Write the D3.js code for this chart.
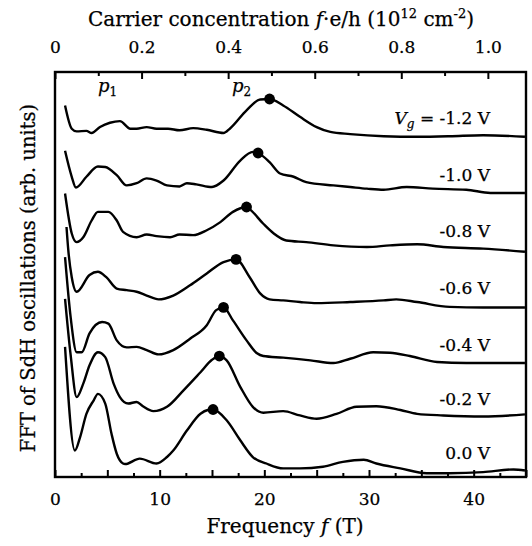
<!DOCTYPE html>
<html><head><meta charset="utf-8">
<script src="https://cdn.jsdelivr.net/npm/d3@7"></script>
<style>
body{margin:0;background:#fff}
text{font-family:"DejaVu Serif",serif;fill:#000;stroke:#000;stroke-width:0.25px}
</style>
</head><body>
<svg id="c" width="532" height="546"></svg>
<script>
// ---------------- data ----------------
const gateLabels = ["0.0 V", "-0.2 V", "-0.4 V", "-0.6 V", "-0.8 V", "-1.0 V", "-1.2 V"];
const offsets = [0, 1.0, 2.0, 3.05, 4.1, 5.15, 6.2];

const freq_00 = [0.96,1.9,2.4,3.0,3.7,4.1,4.8,5.4,5.9,6.5,6.7,8.1,9.7,10.7,11.3,12.6,13.9,14.6,15.1,16.4,17.7,18.9,20.2,21.8,23.4,25.6,27.5,29.5,30.7,33,35.5,37.7,40.9,43.8,44.9];
const amp_00  = [2.41,0.49,0.74,1.17,1.42,1.54,1.36,0.80,0.43,0.25,0.24,0.34,0.25,0.37,0.49,0.86,1.17,1.24,1.25,1.05,0.68,0.37,0.25,0.16,0.16,0.19,0.28,0.32,0.25,0.16,0.07,0.07,0.09,0.14,0.12];

const freq_02 = [0.96,1.5,2.07,2.7,3.3,4.1,4.8,5.6,6.2,7.0,7.8,8.4,9.4,10.7,12.3,13.9,15.0,15.7,16.4,17.7,18.9,19.9,21.8,23.4,25,26.9,28.8,30.7,33,34.6,37.1,40.9,44.9];
const amp_02  = [2.30,1.25,0.48,0.73,1.07,1.31,1.22,0.73,0.48,0.36,0.39,0.31,0.22,0.30,0.61,0.94,1.17,1.24,1.16,0.67,0.30,0.19,0.22,0.14,0.08,0.17,0.30,0.31,0.24,0.17,0.14,0.12,0.16];

const freq_04 = [0.96,1.5,2.07,2.55,3.3,4.5,5.1,5.9,6.85,7.8,8.76,9.9,11.3,12.9,14.5,15.4,16.1,17.0,18.3,19.3,19.9,21.8,24.4,26.6,28.2,30.4,32.0,33.9,36.5,39.3,44.9];
const amp_04  = [2.07,0.95,0.31,0.31,0.66,0.87,0.84,0.53,0.40,0.41,0.35,0.27,0.35,0.56,0.81,1.09,1.14,0.90,0.53,0.29,0.24,0.21,0.16,0.11,0.19,0.31,0.30,0.24,0.13,0.11,0.11];

const freq_06 = [1.1,1.27,1.6,2.07,3.3,4.1,4.9,5.9,6.85,7.8,8.76,9.9,11.3,12.9,14.5,16.1,17.3,18.6,19.6,20.5,21.8,23.4,25,28.2,31.4,32.6,34.6,37.7,40.9,44.9];
const amp_06  = [1.58,1.15,0.65,0.38,0.69,0.75,0.65,0.44,0.41,0.38,0.31,0.24,0.31,0.50,0.72,0.93,0.98,0.65,0.35,0.24,0.22,0.19,0.17,0.19,0.22,0.24,0.19,0.10,0.09,0.09];

const freq_08 = [0.96,1.6,2.07,2.7,3.5,4.1,5.1,5.9,6.5,7.8,8.76,9.7,11.0,11.9,13.2,14.5,15.8,17.0,18.3,18.6,19.9,20.9,22.1,24.0,26.6,29.8,32.0,34.6,37.1,40.9,44.9];
const amp_08  = [1.15,0.41,0.25,0.34,0.65,0.81,0.81,0.65,0.44,0.34,0.39,0.36,0.34,0.39,0.38,0.47,0.62,0.81,0.90,0.86,0.59,0.41,0.28,0.25,0.19,0.16,0.19,0.21,0.16,0.13,0.07];

const freq_10 = [0.96,1.6,2.0,3.0,4.1,4.8,5.9,6.85,7.8,8.76,9.7,10.7,11.9,12.6,13.5,15.0,16.1,17.7,18.9,19.4,20.5,21.5,22.8,24.0,26.6,28.2,29.8,31.4,33.6,36.1,39.3,41.6,44.9];
const amp_10  = [0.89,0.41,0.21,0.41,0.60,0.59,0.44,0.25,0.29,0.38,0.34,0.25,0.23,0.29,0.27,0.22,0.34,0.71,0.87,0.85,0.68,0.47,0.41,0.31,0.25,0.22,0.19,0.17,0.22,0.19,0.17,0.11,0.11];

const freq_12 = [0.96,1.6,2.07,3.0,3.5,4.3,5.25,6.2,7.2,7.8,8.76,9.7,10.8,11.9,13.2,14.5,16.1,16.7,18.3,19.6,20.5,21.8,23.4,25,26.3,28.2,31.4,34.6,37.7,40.9,44.9];
const amp_12  = [0.68,0.25,0.20,0.21,0.17,0.28,0.36,0.39,0.25,0.25,0.28,0.25,0.25,0.22,0.26,0.23,0.17,0.25,0.59,0.79,0.80,0.68,0.47,0.28,0.19,0.15,0.11,0.10,0.11,0.13,0.10];

const peakF = [15.1, 15.7, 16.1, 17.3, 18.3, 19.4, 20.5];
const peakA = [1.25, 1.24, 1.14, 0.98, 0.90, 0.85, 0.80];

const bottomTicks = [0,2.5,5,7.5,10,12.5,15,17.5,20,22.5,25,27.5,30,32.5,35,37.5,40,42.5,45];
const topTicks = [0,0.1,0.2,0.3,0.4,0.5,0.6,0.7,0.8,0.9,1.0];
const eOverH = 0.02418; // 10^12 cm^-2 per tesla

// ---------------- layout ----------------
const freqs = [freq_00, freq_02, freq_04, freq_06, freq_08, freq_10, freq_12];
const amps  = [amp_00, amp_02, amp_04, amp_06, amp_08, amp_10, amp_12];

const L = 55, R = 526, T = 72, B = 477;
const svg = d3.select("#c");
const x = d3.scaleLinear().domain([0, 45]).range([L, R]);
const xn = d3.scaleLinear().domain([0, 45 * eOverH]).range([L, R]);
const y = d3.scaleLinear().domain([0, 7.5]).range([B, T]);
const FS = 17, TS = 20;

// curves
const line = d3.line().x(d => x(d[0])).y(d => y(d[1])).curve(d3.curveMonotoneX);
freqs.forEach((fa, k) => {
  const pts = fa.map((f, i) => [f, amps[k][i] + offsets[k]]);
  svg.append("path").attr("d", line(pts)).attr("fill", "none")
    .attr("stroke", "#000").attr("stroke-width", 2.4).attr("stroke-linejoin", "round");
  svg.append("circle").attr("cx", x(peakF[k])).attr("cy", y(peakA[k] + offsets[k]))
    .attr("r", 5.4).attr("fill", "#000");
});

// gate labels
gateLabels.forEach((g, k) => {
  const t = svg.append("text").attr("x", 490).attr("y", y(offsets[k] + 0.34))
    .attr("text-anchor", "end").attr("font-size", FS);
  if (k === 6) {
    t.append("tspan").attr("font-style", "italic").text("V");
    t.append("tspan").attr("font-style", "italic").attr("font-size", 12).attr("dy", 4).text("g");
    t.append("tspan").attr("dy", -4).text(" = " + g);
  } else t.text(g);
});

// p1, p2 labels
[[4.1, "1"], [16.9, "2"]].forEach(([f, s]) => {
  const t = svg.append("text").attr("x", x(f)).attr("y", 92).attr("font-size", FS + 1);
  t.append("tspan").attr("font-style", "italic").text("p");
  t.append("tspan").attr("font-size", 12).attr("dy", 4).text(s);
});

// bottom axis
const gb = svg.append("g").attr("transform", `translate(0,${B})`)
  .call(d3.axisBottom(x).tickValues(bottomTicks).tickSizeInner(-7).tickSizeOuter(0).tickPadding(16)
    .tickFormat(d => d % 10 === 0 && d < 45 ? d : ""));
gb.select(".domain").remove();
gb.selectAll(".tick line").attr("y2", d => d % 5 === 0 ? -7 : -4).attr("stroke-width", 2);
gb.selectAll(".tick text").attr("font-size", FS).attr("font-family", "DejaVu Serif");

// top axis
const gt = svg.append("g").attr("transform", `translate(0,${T})`)
  .call(d3.axisTop(xn).tickValues(topTicks).tickSizeInner(-7).tickSizeOuter(0).tickPadding(19)
    .tickFormat((d, i) => i % 2 === 0 ? (i === 0 ? "0" : (i / 10).toFixed(1)) : ""));
gt.select(".domain").remove();
gt.selectAll(".tick line").attr("y2", (d, i) => i % 2 === 0 ? 7 : 4).attr("stroke-width", 2);
gt.selectAll(".tick text").attr("font-size", FS).attr("font-family", "DejaVu Serif");

// frame
svg.append("rect").attr("x", L).attr("y", T).attr("width", R - L).attr("height", B - T)
  .attr("fill", "none").attr("stroke", "#000").attr("stroke-width", 2.4);

// axis titles
const tt = svg.append("text").attr("x", 281).attr("y", 26).attr("text-anchor", "middle").attr("font-size", TS);
tt.append("tspan").text("Carrier concentration ");
tt.append("tspan").attr("font-style", "italic").text("f");
tt.append("tspan").text("\u00b7e/h (10");
tt.append("tspan").attr("font-size", 13).attr("dy", -8).text("12");
tt.append("tspan").attr("dy", 8).text(" cm");
tt.append("tspan").attr("font-size", 13).attr("dy", -8).text("-2");
tt.append("tspan").attr("dy", 8).text(")");

const bt = svg.append("text").attr("x", 285).attr("y", 533).attr("text-anchor", "middle").attr("font-size", TS);
bt.append("tspan").text("Frequency ");
bt.append("tspan").attr("font-style", "italic").text("f");
bt.append("tspan").text(" (T)");

svg.append("text").attr("transform", "translate(35,278) rotate(-90)")
  .attr("text-anchor", "middle").attr("font-size", 19.5)
  .text("FFT of SdH oscillations (arb. units)");
</script>
</body></html>
